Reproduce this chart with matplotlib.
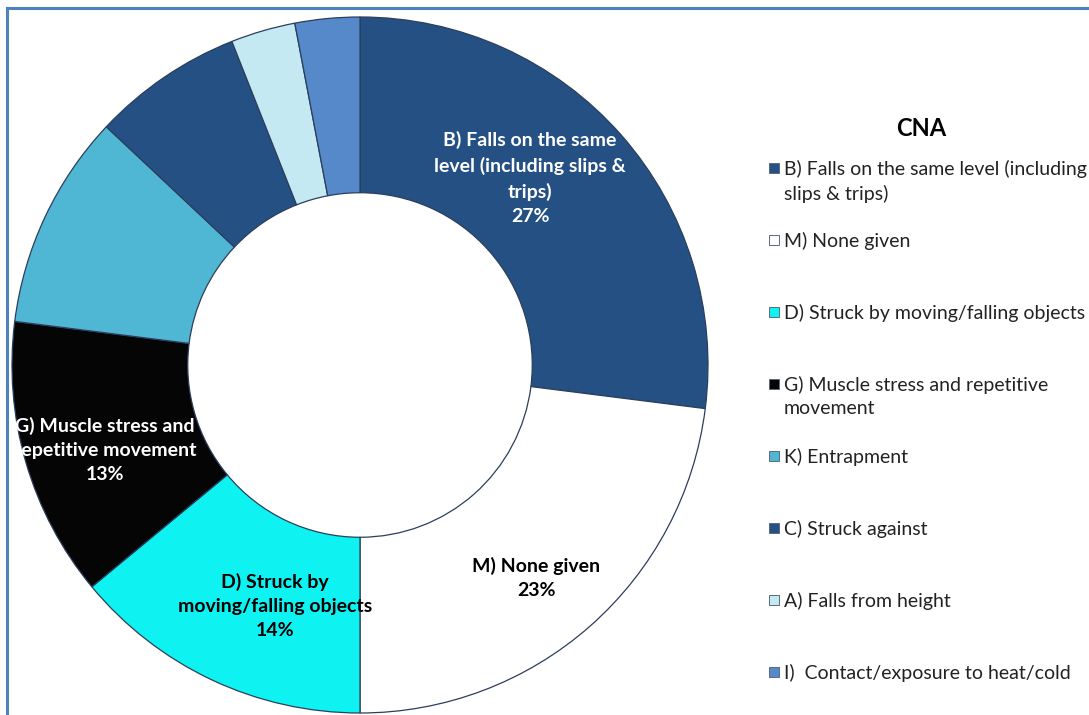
import matplotlib.pyplot as plt
from matplotlib.patches import Rectangle

plt.rcParams['font.family'] = ['Lato', 'DejaVu Sans']

# Accident categories for CNA, in clockwise order from 12 o'clock
labels = [
    'B) Falls on the same level (including slips & trips)',
    'M) None given',
    'D) Struck by moving/falling objects',
    'G) Muscle stress and repetitive movement',
    'K) Entrapment',
    'C) Struck against',
    'A) Falls from height',
    'I)  Contact/exposure to heat/cold',
]
shares = [27, 23, 14, 13, 10, 7, 3, 3]
colors = ['#255084', '#ffffff', '#0ff2f2', '#050505', '#4fb6d4',
          '#255084', '#c5e9f3', '#5589c9']

# legend text as wrapped in the side panel
legend_text = [
    'B) Falls on the same level (including\nslips & trips)',
    'M) None given',
    'D) Struck by moving/falling objects',
    'G) Muscle stress and repetitive\nmovement',
    'K) Entrapment',
    'C) Struck against',
    'A) Falls from height',
    'I)  Contact/exposure to heat/cold',
]

W, H = 1089, 715
fig = plt.figure(figsize=(W / 100, H / 100), dpi=100)

# donut centred at (360, 365) px with outer radius 348 px
cx, cy, R = 360, 365, 348
ax = fig.add_axes([(cx - R) / W, (H - cy - R) / H, 2 * R / W, 2 * R / H])

wedges, _ = ax.pie(shares, colors=colors, startangle=90, counterclock=False,
                   radius=1.0,
                   wedgeprops=dict(width=0.505, edgecolor='#2b3f5c', linewidth=0.9))
ax.set_xlim(-1, 1)
ax.set_ylim(-1, 1)
ax.set_aspect('equal')
ax.axis('off')
for w in wedges:
    w.set_clip_on(False)

# in-slice labels (first four categories only)
slice_labels = {
    0: ('B) Falls on the same\nlevel (including slips &\ntrips)', (530, 178), 'white'),
    1: ('M) None given', (536, 578), 'black'),
    2: ('D) Struck by\nmoving/falling objects', (275, 606), 'black'),
    3: ('G) Muscle stress and\nrepetitive movement', (105, 450), 'white'),
}
for i, (txt, (px, py), col) in slice_labels.items():
    ax.text((px - cx) / R, (cy - py) / R, f'{txt}\n{shares[i]}%',
            ha='center', va='center', fontsize=14, fontweight='bold',
            color=col, linespacing=1.5, clip_on=False)

# frame line along top and left
fig.add_artist(plt.Line2D([7 / W, 1], [1 - 8 / H, 1 - 8 / H], color='#4f81bd',
                          lw=2.2, transform=fig.transFigure))
fig.add_artist(plt.Line2D([7 / W, 7 / W], [0, 1 - 8 / H], color='#4f81bd',
                          lw=2.2, transform=fig.transFigure))

# legend panel
fig.text(921 / W, 1 - 129 / H, 'CNA', ha='center', va='center',
         fontsize=17, fontweight='bold')
for i, (txt, col) in enumerate(zip(legend_text, colors)):
    y = 168 + 72 * i
    fig.add_artist(Rectangle((769 / W, 1 - (y + 5) / H), 10 / W, 10 / H,
                             facecolor=col, edgecolor='#5a6a80', lw=0.7,
                             transform=fig.transFigure))
    fig.text(784 / W, 1 - (y - 8) / H, txt, ha='left', va='top',
             fontsize=14, color='#222222', linespacing=1.45)

fig.savefig('out.png', dpi=100)
